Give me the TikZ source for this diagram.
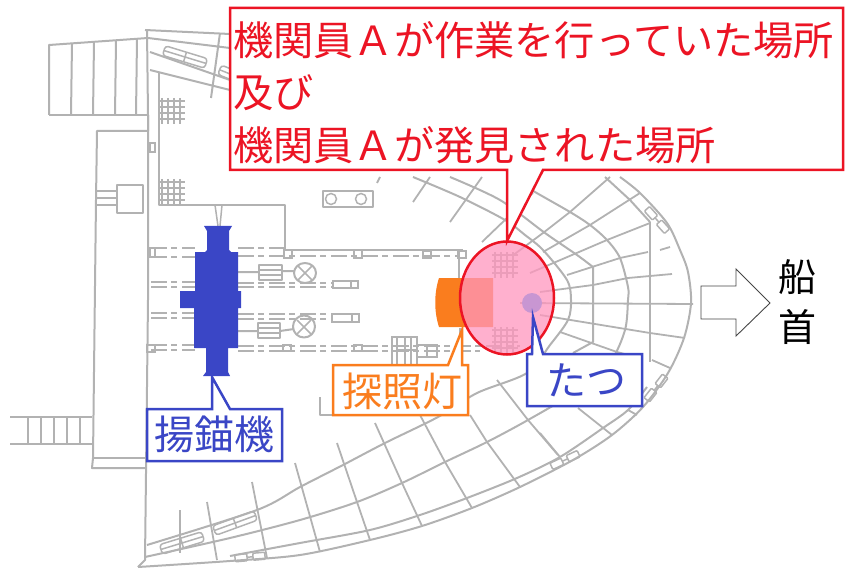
\documentclass[tikz,border=0pt]{standalone}
\usepackage{fontspec}
\setmainfont{Noto Sans CJK JP}
\definecolor{hull}{RGB}{178,178,178}
\definecolor{redline}{RGB}{236,20,36}
\definecolor{blueline}{RGB}{58,70,198}
\definecolor{orangeline}{RGB}{250,125,30}
\definecolor{pinkfill}{RGB}{255,150,190}
\newcommand{\slotshape}[3]{\draw[thinhull,rounded corners=3pt,shift={(#1,#2)},rotate=#3] (-22,-5) rectangle (22,5) (-22,0) -- (22,0) (0,-5) -- (0,5);}
\newcommand{\clampshape}[3]{\draw[thinhull,rounded corners=1pt,shift={(#1,#2)},rotate=#3] (-15,-3.5) rectangle (-3,3.5) (3,-3.5) rectangle (15,3.5) (-3,0) -- (3,0);}
\newcommand{\gridshape}[2]{\draw[hull,line width=1.2pt,shift={(#1,#2)}] (0,3)--(26,3) (0,9)--(26,9) (0,15)--(26,15) (0,21)--(26,21) (3,0)--(3,26) (9,0)--(9,26) (15,0)--(15,26) (21,0)--(21,26);}
\tikzset{
  hullline/.style={draw=hull,line width=2pt,line join=round},
  thinhull/.style={draw=hull,line width=1.5pt},
  radial/.style={draw=hull,line width=1.8pt},
  dashhull/.style={draw=hull,line width=1.4pt,dash pattern=on 16pt off 4pt on 6pt off 5pt},
  callout/.style={line width=2.5pt,fill=white,line join=miter},
  labeltext/.style={inner sep=0pt,font=\fontsize{40}{40}\selectfont},
}
\begin{document}
\begin{tikzpicture}[x=1pt,y=-1pt]
\useasboundingbox (0,0) rectangle (845,569);
% left structures
\draw[hullline] (49,115) -- (49,45) -- (148,38);
\draw[hullline] (49,115) -- (148,115);
\draw[hullline] (72,43) -- (71,115) (94,42) -- (93,115) (116,41) -- (115,115) (137,39) -- (136,115);
\draw[hullline] (148,115) -- (148,131) -- (97,131) -- (96,200) -- (93,458) -- (92,468) -- (145,468);
\draw[hullline] (93,458) -- (145,458);
\draw[hullline] (117,185) rectangle (143,213);
\draw[thinhull] (96,191) -- (117,191) (96,198) -- (117,198) (96,205) -- (117,205);
\draw[hullline] (10,417) -- (92,417) (10,444) -- (92,444);
\draw[thinhull] (28,417) -- (28,444) (41,417) -- (41,444) (54,417) -- (54,444) (67,417) -- (67,444) (80,417) -- (80,444);
\draw[hullline] (147,30) -- (148,115) -- (148,300) -- (145,560) -- (138,567);
\draw[hullline] (145,30) -- (230,34);
\draw[thinhull] (150,143) rectangle (155,152) (150,248) rectangle (155,257) (147,345) rectangle (155,352);
% top left hull
\draw[hullline] (148,38) -- (230,48) (150,52) -- (230,80) (150,70) -- (230,90) (220,33) -- (211,98);
\slotshape{185}{57}{-17}
\slotshape{240}{78}{-22}
% inner wall and grids
\draw[hullline] (159,72) -- (159,205) -- (285,205) -- (285,250);
\draw[thinhull] (215,205) -- (218,226) (222,205) -- (220,226);
\gridshape{159}{98}
\gridshape{159}{179}
% deck lines
\draw[hullline] (285,250) -- (463,250);
\draw[thinhull] (459,250) -- (459,278) (460,328) -- (460,352);
\draw[dashhull] (151,248) -- (195,248) (151,257) -- (195,257) (238,248) -- (285,248) (238,256) -- (460,256);
\draw[dashhull] (151,282) -- (195,282) (151,287) -- (195,287) (238,283) -- (333,283) (238,287) -- (333,287);
\draw[dashhull] (151,313) -- (195,313) (151,318) -- (195,318) (238,314) -- (333,314) (238,319) -- (333,319);
\draw[dashhull] (151,345) -- (195,345) (151,350) -- (195,350) (238,346) -- (520,346) (238,351) -- (480,351);
\draw[thinhull] (284,250) rectangle (292,258) (354,250) rectangle (362,258) (423,251) rectangle (431,258) (458,251) rectangle (466,258);
\draw[thinhull] (283,345) rectangle (291,351) (354,345) rectangle (362,351);
% winch gear
\draw[hullline] (259,265) rectangle (282,280) (258,323) rectangle (280,338);
\draw[thinhull] (259,270) -- (282,270) (259,275) -- (282,275) (258,328) -- (280,328) (258,333) -- (280,333);
\draw[hullline] (238,272) -- (259,272) (238,331) -- (258,331) (282,271) -- (294,271) (280,331) -- (294,329);
\draw[hullline] (305,273) ellipse (11 and 10) (304,326.5) ellipse (11 and 11);
\draw[thinhull] (298,266) -- (312,280) (312,266) -- (298,280) (297,320) -- (311,334) (311,320) -- (297,334);
\draw[thinhull] (333,281) rectangle (358,288) (332,314) rectangle (359,322) (351,281) -- (351,288) (352,314) -- (352,322);
% machinery
\draw[thinhull] (392,337) rectangle (417,365) (397,337) -- (397,365) (405,337) -- (405,365) (411,337) -- (411,365) (398,350) -- (416,350);
\draw[thinhull] (417,345) rectangle (437,357) (427,345) -- (427,357);
\draw[hullline] (320,397) -- (320,415) -- (333,415);
% top box
\draw[hullline] (323,191) rectangle (373,207);
\draw[thinhull] (331,199) circle (5.5) (361,199) circle (5.5);
% hull: outer curves
\draw[hullline] plot[smooth] coordinates {(138,567) (230,561) (300,555) (370,540) (422,526) (472,508) (520,487) (573,460) (612,435) (643,407) (668,373) (684,338) (691,303) (688,272) (680,250) (667,223) (640,193) (620,177)};
\draw[hullline] plot[smooth] coordinates {(230,556) (300,543) (370,530) (420,515) (467,498) (517,478) (560,457) (603,428) (628,410) (647,387)};
\draw[hullline] (650,222) -- (630,200) -- (605,177);
\draw[hullline] (650,222) -- (650,362);
\draw[hullline] plot[smooth] coordinates {(145,557) (230,538) (300,520) (357,502) (402,483) (445,462) (487,442) (528,420) (575,392) (610,362) (625,330) (628,300) (628,287) (620,258) (607,240) (590,225) (570,212) (535,192) (510,177)};
\draw[hullline] plot[smooth] coordinates {(147,545) (257,510) (300,487) (343,465) (385,443) (438,417) (477,393) (527,373) (550,345) (568,320) (571,300) (567,280) (543,250) (525,235) (505,220) (460,197) (413,177)};
\draw[hullline] plot[smooth] coordinates {(450,177) (500,200) (545,233) (577,255) (593,267)};
\draw[hullline] (593,267) -- (593,342) -- (573,353);
% radial lines upper
\draw[radial] (380,177) -- (377,183) (430,177) -- (413,202) (482,177) -- (450,222) (533,193) -- (482,242);
\draw[radial] (610,177) -- (570,212) -- (543,233) -- (512,256);
\draw[radial] (640,193) -- (590,225) -- (543,252);
\draw[radial] (650,223) -- (607,240) -- (530,273);
\draw[radial] (648,252) -- (620,258) -- (567,275);
\draw[radial] (670,247) -- (660,250);
\draw[radial] (672,274) -- (628,278) -- (593,285) -- (540,292);
% radial lines right / lower
\draw[radial] (520,303) -- (693,304);
\draw[radial] (540,315) -- (650,333) -- (685,338);
\draw[radial] (560,332) -- (617,352) -- (640,358) (652,360) -- (670,368);
\draw[radial] (578,408) -- (612,435) (628,410) -- (637,415);
\draw[radial] (497,380) -- (528,420) -- (558,455);
\draw[radial] (470,415) -- (487,442) -- (520,487);
\draw[radial] (420,415) -- (445,462) -- (472,508);
\draw[radial] (375,423) -- (402,483) -- (422,526);
\draw[radial] (337,443) -- (357,502) -- (370,540);
\draw[radial] (295,463) -- (320,552);
\draw[radial] (252,482) -- (267,558);
\draw[radial] (207,502) -- (217,560);
\draw[radial] (180,510) -- (180,553);
\draw[radial] (540,433) -- (560,457);
% slots and clamps
\slotshape{182}{543}{17}
\slotshape{235}{523}{20}
\clampshape{250}{557}{5}
\clampshape{565}{460}{25}
\clampshape{656}{388}{52}
\clampshape{657}{220}{-48}
% grids beneath the ellipse
\gridshape{492}{252}
\gridshape{492}{327}
% anchor winch
\fill[blueline] (204,226) -- (232,226) -- (229,231) -- (229,250) -- (231,252) -- (238,252) -- (238,291) -- (241,291) -- (241,308) -- (238,308) -- (238,348) -- (228,348) -- (228,372) -- (230,376) -- (203,376) -- (206,372) -- (206,348) -- (194,348) -- (194,308) -- (180,308) -- (180,291) -- (195,291) -- (195,252) -- (205,252) -- (207,250) -- (207,231) -- cycle;
% searchlight
\fill[orangeline] (439,278) -- (493,278) -- (493,327) -- (439,327) .. controls (434,312) and (434,293) .. (439,278);
% area ellipse
\fill[pinkfill,fill opacity=.75] (507,298) ellipse (47 and 56.5);
\draw[redline,line width=2.5pt] (507,298) ellipse (47 and 56.5);
\fill[fill={rgb,255:red,200;green,150;blue,210}] (532,303) circle (10);
% callouts
\draw[callout,draw=redline] (230,8) -- (843,8) -- (843,170) -- (543,170) -- (507,241) -- (507,170) -- (230,170) -- cycle;
\node[inner sep=0pt,anchor=north west,align=left,text=redline,font=\fontsize{40.2}{52.5}\selectfont] (mainlabel) at (233,21) {機関員Ａが作業を行っていた場所\\及び\\機関員Ａが発見された場所};
\draw[callout,draw=blueline] (147,409) -- (212,409) -- (212,377) -- (230,409) -- (282,409) -- (282,461) -- (147,461) -- cycle;
\node[labeltext,text=blueline] (winchlabel) at (214.5,434) {揚錨機};
\draw[callout,draw=orangeline] (333,365) -- (448,365) -- (462,330) -- (462,365) -- (468,365) -- (468,415) -- (333,415) -- cycle;
\node[labeltext,text=orangeline] (lamplabel) at (402,391) {探照灯};
\draw[callout,draw=blueline] (527,354) -- (532,354) -- (533,317) -- (543,354) -- (642,354) -- (642,406) -- (527,406) -- cycle;
\node[labeltext,text=blueline] (tatsulabel) at (586,380) {たつ};
% bow arrow
\draw[draw={rgb,255:red,70;green,70;blue,70},line width=.9pt,fill=white,line join=miter] (701,286) -- (736,286) -- (736,269) -- (770,303) -- (736,336) -- (736,319) -- (701,319) -- cycle;
\node[labeltext,text=black,font=\fontsize{38}{38}\selectfont] (bow1) at (797,277) {船};
\node[labeltext,text=black,font=\fontsize{38}{38}\selectfont] (bow2) at (797,327) {首};
\end{tikzpicture}
\end{document}
